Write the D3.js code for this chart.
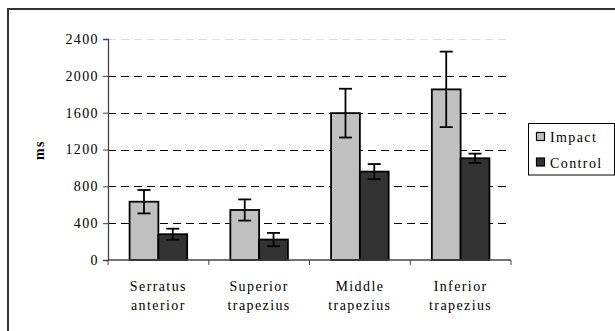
<!DOCTYPE html>
<html>
<head>
  <script src="https://d3js.org/d3.v7.min.js"></script>
  <style>
    html, body {
      margin: 0px;
      padding: 0px;
      background: #fff;
    }
  </style>
</head>
<body>
  <div id="chart"></div>
  <script>
    const width = 615;
    const height = 331;
    const margin = {top: 39, left: 108, right: 104, bottom: 71};
    const serif = "'Liberation Serif', 'Times New Roman', Times, serif";

    // data
    const muscles = [["Serratus", "anterior"], ["Superior", "trapezius"], ["Middle", "trapezius"], ["Inferior", "trapezius"]];
    const seriesNames = ["Impact", "Control"];
    const impactMean = [633, 543, 1595, 1853];
    const impactErr = [127, 115, 265, 410];
    const controlMean = [280, 222, 960, 1105];
    const controlErr = [60, 72, 82, 50];
    const yTicks = [0, 400, 800, 1200, 1600, 2000, 2400];
    const colors = ["#c0c0c0", "#333333"];

    const svg = d3.select("#chart")
      .append("svg")
      .attr("width", width)
      .attr("height", height);

    // outer frame (only left and top edges show in the window)
    svg.append("rect")
      .attr("x", 8)
      .attr("y", 9)
      .attr("width", 640)
      .attr("height", 360)
      .attr("fill", "none")
      .attr("stroke", "#333")
      .attr("stroke-width", 2);

    const x0 = d3.scaleBand()
      .domain(d3.range(muscles.length))
      .range([margin.left, width - margin.right])
      .paddingInner(0)
      .paddingOuter(0);

    // gap width 150% -> bars take 2/3.5 of each category
    const x1 = d3.scaleBand()
      .domain(seriesNames)
      .range([0, x0.bandwidth() * 2 / 3.5]);

    const groupOffset = x0.bandwidth() * 0.75 / 3.5;

    const yScale = d3.scaleLinear()
      .domain([0, 2400])
      .range([height - margin.bottom, margin.top]);

    // gridlines
    svg.append("g")
      .selectAll("line")
      .data(yTicks.filter(d => d > 0))
      .join("line")
        .attr("x1", margin.left)
        .attr("x2", width - margin.right)
        .attr("y1", d => Math.round(yScale(d)) + 0.5)
        .attr("y2", d => Math.round(yScale(d)) + 0.5)
        .attr("stroke", d => d === 2400 ? "#ddd" : "#000")
        .attr("stroke-dasharray", "8,5");

    const rows = [];
    muscles.forEach(function(m, i) {
      rows.push({i: i, s: "Impact", v: impactMean[i], e: impactErr[i], c: colors[0]});
      rows.push({i: i, s: "Control", v: controlMean[i], e: controlErr[i], c: colors[1]});
    });

    const barX = d => x0(d.i) + groupOffset + x1(d.s);

    svg.append("g")
      .selectAll("rect")
      .data(rows)
      .join("rect")
        .attr("x", d => barX(d))
        .attr("y", d => yScale(d.v))
        .attr("width", x1.bandwidth())
        .attr("height", d => yScale(0) - yScale(d.v))
        .attr("fill", d => d.c)
        .attr("stroke", "#000")
        .attr("stroke-width", 1.8);

    // error bars
    const err = svg.append("g")
      .selectAll("g")
      .data(rows)
      .join("g")
        .attr("stroke", "#000")
        .attr("stroke-width", 1.8);

    const cx = d => barX(d) + x1.bandwidth() / 2;
    err.append("line")
      .attr("x1", cx).attr("x2", cx)
      .attr("y1", d => yScale(d.v + d.e))
      .attr("y2", d => yScale(d.v - d.e));
    err.append("line")
      .attr("x1", d => cx(d) - 6.5).attr("x2", d => cx(d) + 6.5)
      .attr("y1", d => yScale(d.v + d.e))
      .attr("y2", d => yScale(d.v + d.e));
    err.append("line")
      .attr("x1", d => cx(d) - 6.5).attr("x2", d => cx(d) + 6.5)
      .attr("y1", d => yScale(d.v - d.e))
      .attr("y2", d => yScale(d.v - d.e));

    // y axis
    const yAxis = svg.append("g")
      .attr("transform", `translate(${margin.left},0)`)
      .call(d3.axisLeft(yScale).tickValues(yTicks).tickFormat(d3.format("d"))
        .tickSizeOuter(0).tickSize(5).tickPadding(4));
    yAxis.attr("font-family", null).attr("font-size", null);
    yAxis.select(".domain").attr("stroke", "#444").attr("stroke-width", 1.3);
    yAxis.selectAll(".tick line").attr("stroke", "#444");

    // x axis: ticks at category boundaries
    const xAxis = svg.append("g")
      .attr("transform", `translate(0,${yScale(0)})`);
    xAxis.append("line")
      .attr("x1", margin.left).attr("x2", width - margin.right)
      .attr("stroke", "#444").attr("stroke-width", 1.3);
    xAxis.selectAll(".tk")
      .data(d3.range(muscles.length + 1))
      .join("line")
        .attr("class", "tk")
        .attr("x1", d => d < muscles.length ? x0(d) : x0(d - 1) + x0.bandwidth())
        .attr("x2", d => d < muscles.length ? x0(d) : x0(d - 1) + x0.bandwidth())
        .attr("y1", 0).attr("y2", 5)
        .attr("stroke", "#444");

    const labels = svg.append("g")
      .selectAll("text")
      .data(muscles)
      .join("text")
        .attr("text-anchor", "middle")
        .attr("x", (d, i) => x0(i) + x0.bandwidth() / 2)
        .attr("y", 291);
    labels.append("tspan")
      .attr("x", (d, i) => x0(i) + x0.bandwidth() / 2)
      .text(d => d[0]);
    labels.append("tspan")
      .attr("x", (d, i) => x0(i) + x0.bandwidth() / 2)
      .attr("dy", 19)
      .text(d => d[1]);

    // y axis title
    svg.append("text")
      .attr("transform", "translate(44,150) rotate(-90)")
      .attr("text-anchor", "middle")
      .style("font-weight", "bold")
      .text("ms");

    // legend
    const legend = svg.append("g");
    legend.append("rect")
      .attr("x", 528.5).attr("y", 123.5)
      .attr("width", 86).attr("height", 51.5)
      .attr("fill", "#fff")
      .attr("stroke", "#000");
    const items = legend.selectAll("g")
      .data(seriesNames)
      .join("g")
        .attr("transform", (d, i) => `translate(536,${137 + i * 25.5})`);
    items.append("rect")
      .attr("x", 0.5).attr("y", -4.5)
      .attr("width", 8).attr("height", 8)
      .attr("fill", (d, i) => colors[i])
      .attr("stroke", "#000")
      .attr("stroke-width", 1.2);
    items.append("text")
      .attr("x", 14)
      .attr("y", 5)
      .text(d => d);

    // common text style
    svg.selectAll("text")
      .style("font-family", serif)
      .style("font-size", "14px")
      .style("letter-spacing", "1.4px")
      .attr("fill", "#000");
  </script>
</body>
</html>
